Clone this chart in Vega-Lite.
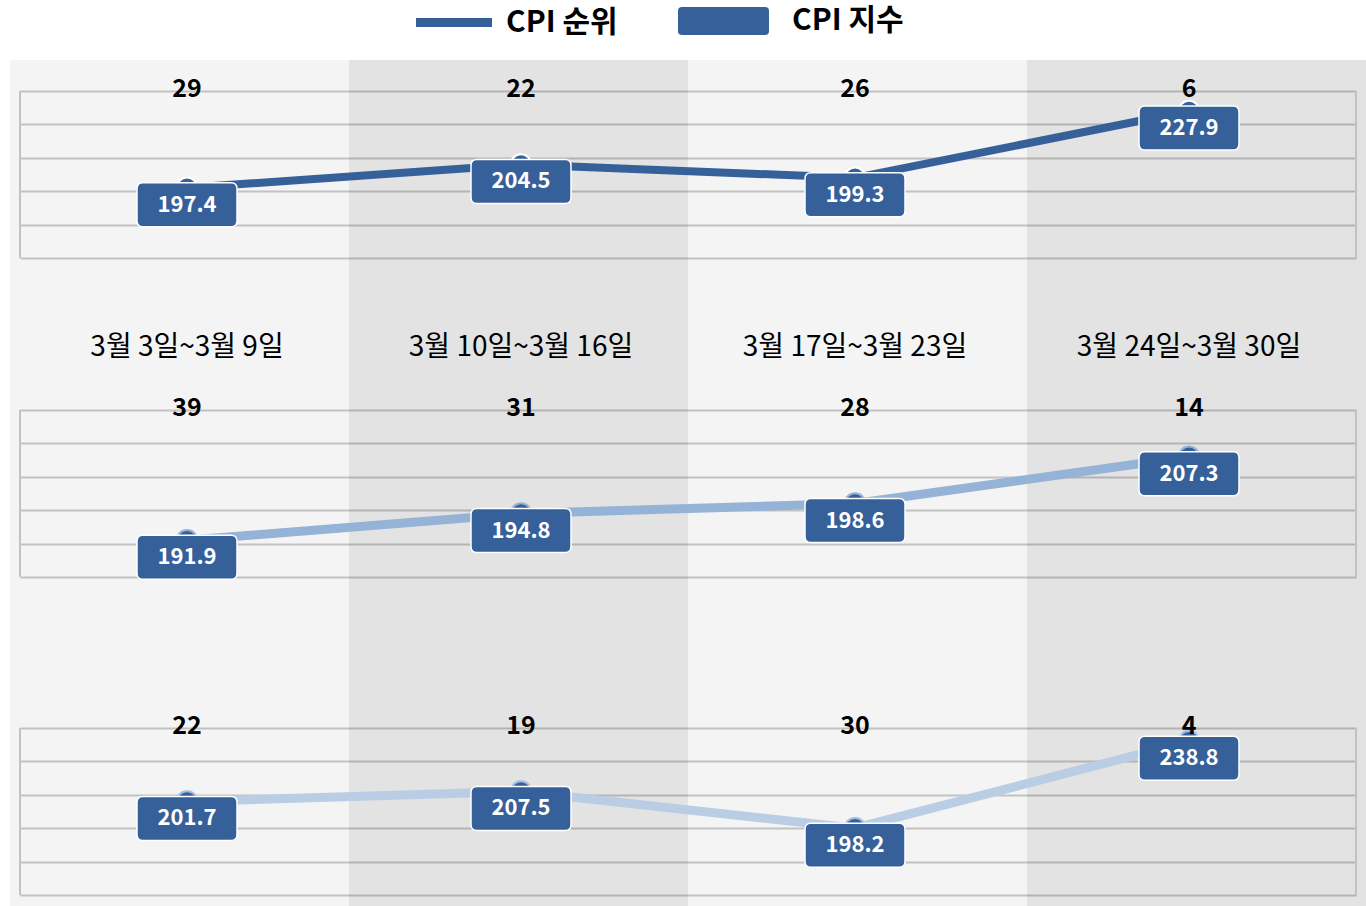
{
  "$schema": "https://vega.github.io/schema/vega-lite/v6.json",
  "background": "white",
  "padding": {"left": 10, "top": 5, "right": 0, "bottom": 0},
  "autosize": {"type": "pad"},
  "bounds": "flush",
  "spacing": 0,
  "data": {"values": [
    {"panel": 1, "week": "3월 3일~3월 9일", "rank": 29, "index": 197.4},
    {"panel": 1, "week": "3월 10일~3월 16일", "rank": 22, "index": 204.5},
    {"panel": 1, "week": "3월 17일~3월 23일", "rank": 26, "index": 199.3},
    {"panel": 1, "week": "3월 24일~3월 30일", "rank": 6, "index": 227.9},
    {"panel": 2, "week": "3월 3일~3월 9일", "rank": 39, "index": 191.9},
    {"panel": 2, "week": "3월 10일~3월 16일", "rank": 31, "index": 194.8},
    {"panel": 2, "week": "3월 17일~3월 23일", "rank": 28, "index": 198.6},
    {"panel": 2, "week": "3월 24일~3월 30일", "rank": 14, "index": 207.3},
    {"panel": 3, "week": "3월 3일~3월 9일", "rank": 22, "index": 201.7},
    {"panel": 3, "week": "3월 10일~3월 16일", "rank": 19, "index": 207.5},
    {"panel": 3, "week": "3월 17일~3월 23일", "rank": 30, "index": 198.2},
    {"panel": 3, "week": "3월 24일~3월 30일", "rank": 4, "index": 238.8}
  ]},
  "vconcat": [
    {
      "width": 1336, "height": 320,
      "transform": [{"filter": "datum.panel == 1"}],
      "resolve": {"scale": {"x": "independent"}},
      "layer": [
        {"mark": {"type": "rect"}, "encoding": {
          "x": {"field": "week", "type": "nominal", "scale": {"type": "band", "domain": ["3월 3일~3월 9일","3월 10일~3월 16일","3월 17일~3월 23일","3월 24일~3월 30일"], "range": [-10, 1346], "paddingInner": 0, "paddingOuter": 0}, "axis": null},
          "color": {"field": "week", "type": "nominal", "scale": {"domain": ["3월 3일~3월 9일","3월 10일~3월 16일","3월 17일~3월 23일","3월 24일~3월 30일"], "range": ["rgba(0,0,0,0.043)","rgba(0,0,0,0.11)","rgba(0,0,0,0.043)","rgba(0,0,0,0.11)"]}, "legend": null}}},
        {"encoding": {
          "x": {"field": "week", "type": "nominal", "scale": {"type": "band", "domain": ["3월 3일~3월 9일","3월 10일~3월 16일","3월 17일~3월 23일","3월 24일~3월 30일"], "paddingInner": 0, "paddingOuter": 0},
            "axis": {"orient": "bottom", "offset": -33, "labelPadding": 0, "labelBaseline": "middle", "ticks": false, "tickSize": 0, "domain": false, "grid": false, "title": null, "labelFont": "Noto Sans CJK KR", "labelFontSize": 28, "labelColor": "#000", "labelLimit": 400, "labelAngle": 0}},
          "y": {"field": "rank", "type": "quantitative", "scale": {"domain": [-9.281, 86.527], "reverse": true, "nice": false, "zero": false},
            "axis": {"values": [0,10,20,30,40,50], "grid": true, "gridColor": "#cbcbcb", "gridWidth": 2, "labels": false, "ticks": false, "domain": false, "title": null}}},
         "layer": [
          {"transform": [{"filter": "datum.week == '3월 3일~3월 9일'"}], "mark": {"type": "rule", "color": "#c2c2c2", "strokeWidth": 2},
           "encoding": {"x": {"field": "week", "type": "nominal", "bandPosition": 0, "axis": {"orient": "bottom", "offset": -33, "labelPadding": 0, "labelBaseline": "middle", "ticks": false, "tickSize": 0, "domain": false, "grid": false, "title": null, "labelFont": "Noto Sans CJK KR", "labelFontSize": 28, "labelColor": "#000", "labelLimit": 400, "labelAngle": 0}},
             "y": {"datum": 0, "axis": {"values": [0,10,20,30,40,50], "grid": true, "gridColor": "#cbcbcb", "gridWidth": 2, "labels": false, "ticks": false, "domain": false, "title": null}}, "y2": {"datum": 50}}},
          {"transform": [{"filter": "datum.week == '3월 24일~3월 30일'"}], "mark": {"type": "rule", "color": "#c2c2c2", "strokeWidth": 2},
           "encoding": {"x": {"field": "week", "type": "nominal", "bandPosition": 1, "axis": {"orient": "bottom", "offset": -33, "labelPadding": 0, "labelBaseline": "middle", "ticks": false, "tickSize": 0, "domain": false, "grid": false, "title": null, "labelFont": "Noto Sans CJK KR", "labelFontSize": 28, "labelColor": "#000", "labelLimit": 400, "labelAngle": 0}},
             "y": {"datum": 0, "axis": {"values": [0,10,20,30,40,50], "grid": true, "gridColor": "#cbcbcb", "gridWidth": 2, "labels": false, "ticks": false, "domain": false, "title": null}}, "y2": {"datum": 50}}},
          {"mark": {"type": "line", "strokeWidth": 8},
           "encoding": {"stroke": {"datum": "CPI 순위", "type": "nominal", "scale": {"range": ["#36609a"]},
             "legend": {"orient": "none", "legendX": 416.5, "legendY": -55, "title": null, "padding": 0, "symbolType": "M-2.923,0H2.923", "symbolSize": 676, "symbolStrokeWidth": 9, "labelFont": "Noto Sans CJK KR", "labelFontSize": 30, "labelFontWeight": "bold", "labelColor": "#000", "labelOffset": 34.5, "labelLimit": 300}}}},
          {"mark": {"type": "circle", "size": 420, "filled": true, "fill": "#36609a", "stroke": "#ffffff", "strokeWidth": 2, "opacity": 1}},
          {"mark": {"type": "point", "shape": "M-2,-1H2Q2.273,-1 2.273,-0.727V0.727Q2.273,1 2,1H-2Q-2.273,1 -2.273,0.727V-0.727Q-2.273,-1 -2,-1Z", "size": 1936, "filled": true, "stroke": "#ffffff", "strokeWidth": 1.5, "opacity": 1, "yOffset": 17},
           "encoding": {"fill": {"datum": "CPI 지수", "type": "nominal", "scale": {"range": ["#36609a"]},
             "legend": {"orient": "none", "legendX": 688.5, "legendY": -54, "title": null, "padding": 0, "symbolType": "M-2.964,-1H2.964Q3.25,-1 3.25,-0.714V0.714Q3.25,1 2.964,1H-2.964Q-3.25,1 -3.25,0.714V-0.714Q-3.25,-1 -2.964,-1Z", "symbolSize": 784, "symbolStrokeWidth": 0, "labelFont": "Noto Sans CJK KR", "labelFontSize": 30, "labelFontWeight": "bold", "labelColor": "#000", "labelOffset": 53.5, "labelLimit": 300}}}},
          {"mark": {"type": "text", "color": "#ffffff", "font": "Noto Sans CJK KR", "fontSize": 22, "fontWeight": "bold", "baseline": "middle", "yOffset": 17},
           "encoding": {"text": {"field": "index", "type": "quantitative", "format": ".1f"}}},
          {"mark": {"type": "text", "color": "#000000", "font": "Noto Sans CJK KR", "fontSize": 25, "fontWeight": "bold", "baseline": "middle", "dy": -2},
           "encoding": {"y": {"datum": 0, "axis": {"values": [0,10,20,30,40,50], "grid": true, "gridColor": "#cbcbcb", "gridWidth": 2, "labels": false, "ticks": false, "domain": false, "title": null}}, "text": {"field": "rank", "type": "quantitative"}}}
        ]}
      ]
    },
    {
      "width": 1336, "height": 320,
      "transform": [{"filter": "datum.panel == 2"}],
      "resolve": {"scale": {"x": "independent"}},
      "layer": [
        {"mark": {"type": "rect"}, "encoding": {
          "x": {"field": "week", "type": "nominal", "scale": {"type": "band", "domain": ["3월 3일~3월 9일","3월 10일~3월 16일","3월 17일~3월 23일","3월 24일~3월 30일"], "range": [-10, 1346], "paddingInner": 0, "paddingOuter": 0}, "axis": null},
          "color": {"field": "week", "type": "nominal", "scale": {"domain": ["3월 3일~3월 9일","3월 10일~3월 16일","3월 17일~3월 23일","3월 24일~3월 30일"], "range": ["rgba(0,0,0,0.043)","rgba(0,0,0,0.11)","rgba(0,0,0,0.043)","rgba(0,0,0,0.11)"]}, "legend": null}}},
        {"encoding": {
          "x": {"field": "week", "type": "nominal", "scale": {"type": "band", "domain": ["3월 3일~3월 9일","3월 10일~3월 16일","3월 17일~3월 23일","3월 24일~3월 30일"], "paddingInner": 0, "paddingOuter": 0}, "axis": null},
          "y": {"field": "rank", "type": "quantitative", "scale": {"domain": [-8.982, 86.826], "reverse": true, "nice": false, "zero": false},
            "axis": {"values": [0,10,20,30,40,50], "grid": true, "gridColor": "#cbcbcb", "gridWidth": 2, "labels": false, "ticks": false, "domain": false, "title": null}}},
         "layer": [
          {"transform": [{"filter": "datum.week == '3월 3일~3월 9일'"}], "mark": {"type": "rule", "color": "#c2c2c2", "strokeWidth": 2},
           "encoding": {"x": {"field": "week", "type": "nominal", "bandPosition": 0, "axis": null},
             "y": {"datum": 0, "axis": {"values": [0,10,20,30,40,50], "grid": true, "gridColor": "#cbcbcb", "gridWidth": 2, "labels": false, "ticks": false, "domain": false, "title": null}}, "y2": {"datum": 50}}},
          {"transform": [{"filter": "datum.week == '3월 24일~3월 30일'"}], "mark": {"type": "rule", "color": "#c2c2c2", "strokeWidth": 2},
           "encoding": {"x": {"field": "week", "type": "nominal", "bandPosition": 1, "axis": null},
             "y": {"datum": 0, "axis": {"values": [0,10,20,30,40,50], "grid": true, "gridColor": "#cbcbcb", "gridWidth": 2, "labels": false, "ticks": false, "domain": false, "title": null}}, "y2": {"datum": 50}}},
          {"mark": {"type": "line", "strokeWidth": 9, "color": "#95b3d7"}},
          {"mark": {"type": "circle", "size": 420, "filled": true, "fill": "#36609a", "stroke": "#95b3d7", "strokeWidth": 2, "opacity": 1}},
          {"mark": {"type": "point", "shape": "M-2,-1H2Q2.273,-1 2.273,-0.727V0.727Q2.273,1 2,1H-2Q-2.273,1 -2.273,0.727V-0.727Q-2.273,-1 -2,-1Z", "size": 1936, "filled": true, "fill": "#36609a", "stroke": "#ffffff", "strokeWidth": 1.5, "opacity": 1, "yOffset": 17}},
          {"mark": {"type": "text", "color": "#ffffff", "font": "Noto Sans CJK KR", "fontSize": 22, "fontWeight": "bold", "baseline": "middle", "yOffset": 17},
           "encoding": {"text": {"field": "index", "type": "quantitative", "format": ".1f"}}},
          {"mark": {"type": "text", "color": "#000000", "font": "Noto Sans CJK KR", "fontSize": 25, "fontWeight": "bold", "baseline": "middle", "dy": -2},
           "encoding": {"y": {"datum": 0, "axis": {"values": [0,10,20,30,40,50], "grid": true, "gridColor": "#cbcbcb", "gridWidth": 2, "labels": false, "ticks": false, "domain": false, "title": null}}, "text": {"field": "rank", "type": "quantitative"}}}
        ]}
      ]
    },
    {
      "width": 1336, "height": 206,
      "transform": [{"filter": "datum.panel == 3"}],
      "resolve": {"scale": {"x": "independent"}},
      "layer": [
        {"mark": {"type": "rect"}, "encoding": {
          "x": {"field": "week", "type": "nominal", "scale": {"type": "band", "domain": ["3월 3일~3월 9일","3월 10일~3월 16일","3월 17일~3월 23일","3월 24일~3월 30일"], "range": [-10, 1346], "paddingInner": 0, "paddingOuter": 0}, "axis": null},
          "color": {"field": "week", "type": "nominal", "scale": {"domain": ["3월 3일~3월 9일","3월 10일~3월 16일","3월 17일~3월 23일","3월 24일~3월 30일"], "range": ["rgba(0,0,0,0.043)","rgba(0,0,0,0.11)","rgba(0,0,0,0.043)","rgba(0,0,0,0.11)"]}, "legend": null}}},
        {"encoding": {
          "x": {"field": "week", "type": "nominal", "scale": {"type": "band", "domain": ["3월 3일~3월 9일","3월 10일~3월 16일","3월 17일~3월 23일","3월 24일~3월 30일"], "paddingInner": 0, "paddingOuter": 0}, "axis": null},
          "y": {"field": "rank", "type": "quantitative", "scale": {"domain": [-8.383, 53.293], "reverse": true, "nice": false, "zero": false},
            "axis": {"values": [0,10,20,30,40,50], "grid": true, "gridColor": "#cbcbcb", "gridWidth": 2, "labels": false, "ticks": false, "domain": false, "title": null}}},
         "layer": [
          {"transform": [{"filter": "datum.week == '3월 3일~3월 9일'"}], "mark": {"type": "rule", "color": "#c2c2c2", "strokeWidth": 2},
           "encoding": {"x": {"field": "week", "type": "nominal", "bandPosition": 0, "axis": null},
             "y": {"datum": 0, "axis": {"values": [0,10,20,30,40,50], "grid": true, "gridColor": "#cbcbcb", "gridWidth": 2, "labels": false, "ticks": false, "domain": false, "title": null}}, "y2": {"datum": 50}}},
          {"transform": [{"filter": "datum.week == '3월 24일~3월 30일'"}], "mark": {"type": "rule", "color": "#c2c2c2", "strokeWidth": 2},
           "encoding": {"x": {"field": "week", "type": "nominal", "bandPosition": 1, "axis": null},
             "y": {"datum": 0, "axis": {"values": [0,10,20,30,40,50], "grid": true, "gridColor": "#cbcbcb", "gridWidth": 2, "labels": false, "ticks": false, "domain": false, "title": null}}, "y2": {"datum": 50}}},
          {"mark": {"type": "line", "strokeWidth": 9, "color": "#b9cde5"}},
          {"mark": {"type": "circle", "size": 420, "filled": true, "fill": "#36609a", "stroke": "#9fbbdd", "strokeWidth": 2, "opacity": 1}},
          {"mark": {"type": "point", "shape": "M-2,-1H2Q2.273,-1 2.273,-0.727V0.727Q2.273,1 2,1H-2Q-2.273,1 -2.273,0.727V-0.727Q-2.273,-1 -2,-1Z", "size": 1936, "filled": true, "fill": "#36609a", "stroke": "#ffffff", "strokeWidth": 1.5, "opacity": 1, "yOffset": 17}},
          {"mark": {"type": "text", "color": "#ffffff", "font": "Noto Sans CJK KR", "fontSize": 22, "fontWeight": "bold", "baseline": "middle", "yOffset": 17},
           "encoding": {"text": {"field": "index", "type": "quantitative", "format": ".1f"}}},
          {"mark": {"type": "text", "color": "#000000", "font": "Noto Sans CJK KR", "fontSize": 25, "fontWeight": "bold", "baseline": "middle", "dy": -2},
           "encoding": {"y": {"datum": 0, "axis": {"values": [0,10,20,30,40,50], "grid": true, "gridColor": "#cbcbcb", "gridWidth": 2, "labels": false, "ticks": false, "domain": false, "title": null}}, "text": {"field": "rank", "type": "quantitative"}}}
        ]}
      ]
    }
  ],
  "config": {
    "view": {"stroke": null},
    "font": "Noto Sans CJK KR"
  }
}
